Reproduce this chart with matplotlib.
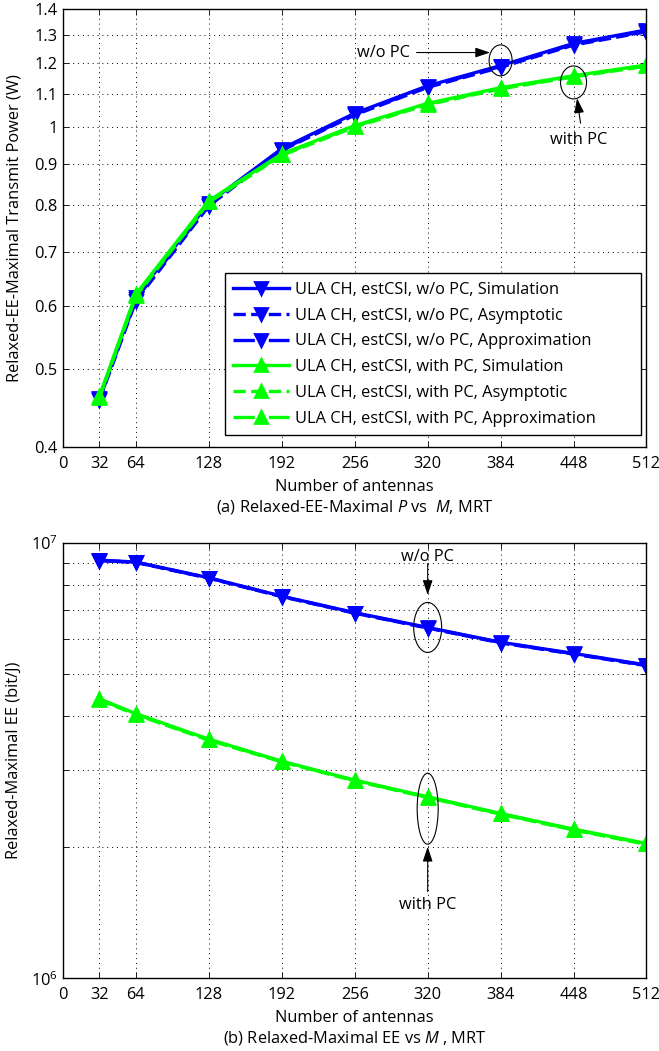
import numpy as np
import matplotlib
matplotlib.use("Agg")
import matplotlib.pyplot as plt
from matplotlib.patches import Ellipse
from matplotlib.ticker import FixedLocator, NullFormatter, NullLocator

plt.rcParams['font.family'] = ['Open Sans', 'DejaVu Sans']
plt.rcParams['mathtext.fontset'] = 'custom'
plt.rcParams['mathtext.rm'] = 'Open Sans'
plt.rcParams['mathtext.it'] = 'Open Sans:italic'

M = [32, 64, 128, 192, 256, 320, 384, 448, 512]

# (a) Relaxed-EE-maximal transmit power (W)
P_wo_sim = [0.461, 0.615, 0.805, 0.940, 1.040, 1.125, 1.192, 1.270, 1.320]
P_wo_asy = [0.458, 0.608, 0.798, 0.935, 1.035, 1.120, 1.186, 1.264, 1.313]
P_wo_app = [0.459, 0.611, 0.801, 0.937, 1.037, 1.122, 1.189, 1.267, 1.316]
P_w_sim = [0.463, 0.620, 0.810, 0.926, 1.004, 1.070, 1.119, 1.158, 1.194]
P_w_asy = [0.461, 0.616, 0.806, 0.922, 1.000, 1.066, 1.115, 1.154, 1.190]
P_w_app = [0.462, 0.618, 0.808, 0.924, 1.002, 1.068, 1.117, 1.156, 1.192]

# (b) Relaxed-maximal EE (bit/J)
EE_wo_sim = [9.12e6, 9.03e6, 8.31e6, 7.54e6, 6.91e6, 6.39e6, 5.91e6, 5.57e6, 5.24e6]
EE_wo_asy = [9.10e6, 9.01e6, 8.29e6, 7.52e6, 6.89e6, 6.37e6, 5.89e6, 5.55e6, 5.22e6]
EE_wo_app = [9.11e6, 9.02e6, 8.30e6, 7.53e6, 6.90e6, 6.38e6, 5.90e6, 5.56e6, 5.23e6]
EE_w_sim = [4.38e6, 4.05e6, 3.54e6, 3.15e6, 2.85e6, 2.61e6, 2.39e6, 2.20e6, 2.04e6]
EE_w_asy = [4.36e6, 4.03e6, 3.52e6, 3.14e6, 2.84e6, 2.60e6, 2.38e6, 2.19e6, 2.03e6]
EE_w_app = [4.37e6, 4.04e6, 3.53e6, 3.145e6, 2.845e6, 2.605e6, 2.385e6, 2.195e6, 2.035e6]

labels = ["ULA CH, estCSI, w/o PC, Simulation",
          "ULA CH, estCSI, w/o PC, Asymptotic",
          "ULA CH, estCSI, w/o PC, Approximation",
          "ULA CH, estCSI, with PC, Simulation",
          "ULA CH, estCSI, with PC, Asymptotic",
          "ULA CH, estCSI, with PC, Approximation"]

xticks = [0, 32, 64, 128, 192, 256, 320, 384, 448, 512]
p_ticks = [0.4, 0.5, 0.6, 0.7, 0.8, 0.9, 1.0, 1.1, 1.2, 1.3, 1.4]
p_ticklabels = ['0.4', '0.5', '0.6', '0.7', '0.8', '0.9', '1', '1.1', '1.2', '1.3', '1.4']

BLUE = (0, 0, 1)
GREEN = (0, 1, 0)
FS = 11.8

fig = plt.figure(figsize=(6.59, 10.51), dpi=100)
ax1 = fig.add_axes([0.0956, 0.5744, 0.8854, 0.4167])
ax2 = fig.add_axes([0.0956, 0.0692, 0.8854, 0.4144])


def draw(ax, series):
    styles = ['-', '--', '-.']
    for i, (y, lab) in enumerate(series):
        col = BLUE if i < 3 else GREEN
        mk = 'v' if i < 3 else '^'
        ax.plot(M, y, linestyle=styles[i % 3], color=col, lw=2.4, marker=mk,
                markersize=9, markerfacecolor=col, markeredgecolor=col,
                markeredgewidth=2.0, label=lab)


draw(ax1, list(zip([P_wo_sim, P_wo_asy, P_wo_app, P_w_sim, P_w_asy, P_w_app], labels)))
draw(ax2, list(zip([EE_wo_sim, EE_wo_asy, EE_wo_app, EE_w_sim, EE_w_asy, EE_w_app], labels)))

for ax in (ax1, ax2):
    ax.set_yscale('log')
    ax.set_xlim(0, 512)
    ax.set_xticks(xticks)
    ax.set_xticklabels([str(t) for t in xticks])
    ax.xaxis.set_minor_locator(NullLocator())
    ax.tick_params(which='both', direction='in', top=True, right=True,
                   labelsize=FS, length=4, width=0.6, pad=4, colors='black')
    ax.tick_params(axis='x', pad=6)
    for s in ax.spines.values():
        s.set_linewidth(1.0)
    ax.set_xlabel('Number of antennas', fontsize=FS)
    ax.xaxis.label.set_verticalalignment('center')
    ax.xaxis.set_label_coords(0.5, -0.0906)

# top axes
ax1.set_ylim(0.4, 1.4)
ax1.yaxis.set_major_locator(FixedLocator(p_ticks))
ax1.set_yticklabels(p_ticklabels)
ax1.yaxis.set_minor_locator(NullLocator())
ax1.yaxis.set_minor_formatter(NullFormatter())
ax1.grid(True, which='major', linestyle=(0, (1, 4)), color='black', lw=0.7)
ax1.set_ylabel('Relaxed-EE-Maximal Transmit Power (W)', fontsize=FS)
ax1.yaxis.set_label_coords(-0.070, 0.5)

leg = ax1.legend(loc='lower left', bbox_to_anchor=(0.2776, 0.028, 0.7124, 0.3), mode='expand',
                 fontsize=FS, handlelength=3.4, labelspacing=0.6, borderpad=0.5,
                 handletextpad=0.4, borderaxespad=0.0, fancybox=False, framealpha=1)
leg.get_frame().set_edgecolor('black')
leg.get_frame().set_linewidth(1.0)

# bottom axes
ax2.set_ylim(1e6, 1e7)
ax2.yaxis.set_major_locator(FixedLocator([1e6, 1e7]))
ax2.set_yticklabels([r'$10^6$', r'$10^7$'])
ax2.yaxis.set_minor_locator(FixedLocator([k * 1e6 for k in range(2, 10)]))
ax2.yaxis.set_minor_formatter(NullFormatter())
ax2.grid(True, which='both', axis='y', linestyle=(0, (1, 4)), color='black', lw=0.7)
ax2.grid(True, which='major', axis='x', linestyle=(0, (1, 4)), color='black', lw=0.7)
ax2.set_ylabel('Relaxed-Maximal EE (bit/J)', fontsize=FS)
ax2.yaxis.set_label_coords(-0.070, 0.5)

fig.text(0.0956 + 0.8854 / 2, 1 - 507 / 1051,
         r'(a) Relaxed-EE-Maximal $\mathit{P}$ vs  $\mathit{M}$, MRT',
         ha='center', va='center', fontsize=FS)
fig.text(0.0956 + 0.8854 / 2, 1 - 1038 / 1051,
         r'(b) Relaxed-Maximal EE vs $\mathit{M}$ , MRT',
         ha='center', va='center', fontsize=FS)


def ellipse_at(ax, x, y, w_px, h_px):
    fig.canvas.draw()
    disp = ax.transData.transform((x, y))
    cx, cy = ax.transAxes.inverted().transform(disp)
    bb = ax.get_window_extent()
    e = Ellipse((cx, cy), w_px / bb.width, h_px / bb.height, transform=ax.transAxes,
                fill=False, edgecolor='black', lw=0.8, zorder=5)
    ax.add_patch(e)


arrow = dict(arrowstyle='-|>,head_length=0.9,head_width=0.3', color='black', lw=0.8,
             shrinkA=0, shrinkB=0)

# annotations top
ellipse_at(ax1, M[6], P_wo_sim[6] * 1.015, 23, 31)
ellipse_at(ax1, M[7], P_w_sim[7] * 0.981, 26, 33)
ax1.text(0.5496, 0.9014, 'w/o PC', transform=ax1.transAxes, ha='center', va='center', fontsize=FS)
ax1.annotate('', xy=(0.732, 0.9014), xytext=(0.606, 0.9014), xycoords='axes fraction',
             arrowprops=arrow)
ax1.text(0.883, 0.7016, 'with PC', transform=ax1.transAxes, ha='center', va='center', fontsize=FS)
ax1.annotate('', xy=(0.881, 0.797), xytext=(0.887, 0.740), xycoords='axes fraction',
             arrowprops=arrow)

# annotations bottom
ellipse_at(ax2, M[5], EE_wo_sim[5], 28, 50)
ellipse_at(ax2, M[5], EE_w_sim[5] * 0.939, 21, 71)
ax2.text(0.625, 0.9675, 'w/o PC', transform=ax2.transAxes, ha='center', va='center', fontsize=FS)
ax2.annotate('', xy=(0.625, 0.880), xytext=(0.625, 0.952), xycoords='axes fraction',
             arrowprops=arrow)
ax2.text(0.625, 0.168, 'with PC', transform=ax2.transAxes, ha='center', va='center', fontsize=FS)
ax2.annotate('', xy=(0.625, 0.302), xytext=(0.625, 0.199), xycoords='axes fraction',
             arrowprops=arrow)

fig.savefig('out.png', dpi=100)
